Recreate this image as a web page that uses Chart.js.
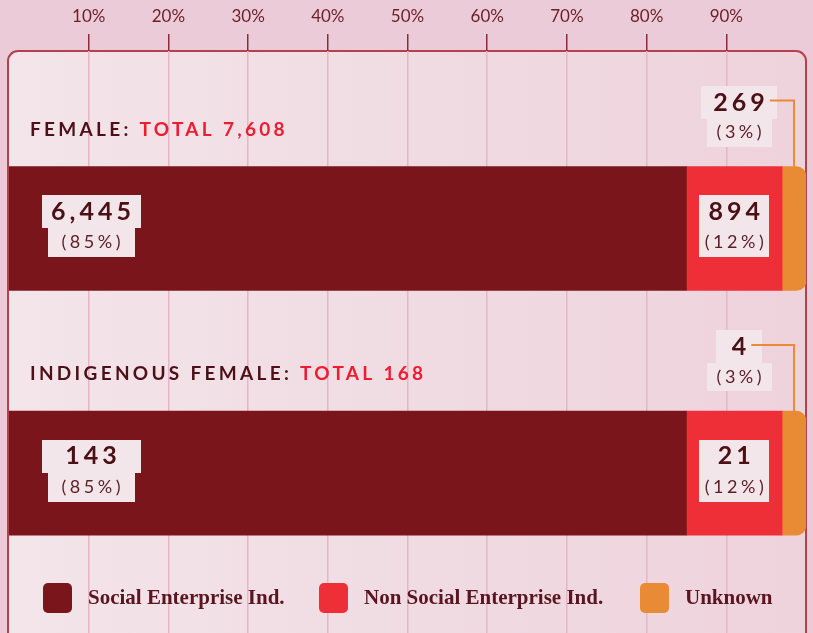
<!DOCTYPE html>
<html>
<head>
<meta charset="utf-8">
<script src="https://cdn.jsdelivr.net/npm/chart.js@4.4.1/dist/chart.umd.min.js"></script>
<style>
  html, body { margin: 0; padding: 0; background: #eccbd8; }
  #wrap { width: 813px; height: 633px; }
</style>
</head>
<body>
<div id="wrap"><canvas id="chartPerempuan"></canvas></div>
<script>
// Data per kelompok
const kelompok = ["FEMALE", "INDIGENOUS FEMALE"];
const totalKelompok = ["7,608", "168"];
const namaSeri = ["Social Enterprise Ind.", "Non Social Enterprise Ind.", "Unknown"];
const jumlahSocial = [6445, 143];
const jumlahNonSocial = [894, 21];
const jumlahUnknown = [269, 4];
const persenSocial = [85, 85];
const persenNonSocial = [12, 12];
const persenUnknown = [3, 3];
const tickPersen = [10, 20, 30, 40, 50, 60, 70, 80, 90];
const warnaSeri = ["#7a161b", "#ee2f38", "#e98a35"];

const jumlahSemua = [jumlahSocial, jumlahNonSocial, jumlahUnknown];
const persenSemua = [persenSocial, persenNonSocial, persenUnknown];

function formatAngka(n) {
    return new Intl.NumberFormat("en-US").format(n);
}

// Tulis teks dengan letter spacing, posisi di tengah
function tulisTengah(ctx, str, cx, cy, font, spasi, warna) {
    ctx.font = font;
    ctx.letterSpacing = spasi + "px";
    const w = ctx.measureText(str).width - spasi;
    ctx.fillStyle = warna;
    ctx.textAlign = "left";
    ctx.textBaseline = "middle";
    ctx.fillText(str, cx - w / 2, cy);
    return w;
}

function kotak(ctx, cx, top, w, h) {
    ctx.fillStyle = "#f3e6ea";
    ctx.fillRect(Math.round(cx - w / 2), top, Math.round(w), h);
}

// Panel latar dengan border merah
const panelPlugin = {
    id: "panel",
    beforeDraw(chart) {
        const { ctx, chartArea } = chart;
        const x0 = chartArea.left - 1, x1 = chartArea.right, y0 = chartArea.top;
        ctx.save();
        const grad = ctx.createLinearGradient(x0, 0, x1, 0);
        grad.addColorStop(0, "#f3e5ea");
        grad.addColorStop(1, "#eed2dc");
        ctx.fillStyle = grad;
        ctx.strokeStyle = "#b5404e";
        ctx.lineWidth = 2;
        ctx.beginPath();
        ctx.roundRect(x0, y0, x1 - x0, chart.height - y0 + 30, 10);
        ctx.fill();
        ctx.stroke();
        ctx.restore();
    }
};

// Label angka, judul kelompok dan legend
const labelPlugin = {
    id: "labelBar",
    afterDatasetsDraw(chart) {
        const { ctx, chartArea } = chart;
        const metaSocial = chart.getDatasetMeta(0);
        const metaNon = chart.getDatasetMeta(1);
        const metaUnk = chart.getDatasetMeta(2);
        const fontAngka = "bold 25px Lato";
        const fontPersen = "18px Lato";
        const warnaAngka = "#4a1015";
        const warnaPersen = "#5a1d25";
        ctx.save();

        kelompok.forEach((nama, i) => {
            const bs = metaSocial.data[i];
            const bn = metaNon.data[i];
            const bu = metaUnk.data[i];
            const atas = bs.y - bs.height / 2;

            // Judul kelompok
            ctx.font = "bold 19px Lato";
            ctx.letterSpacing = "3.3px";
            ctx.textAlign = "left";
            ctx.textBaseline = "middle";
            ctx.fillStyle = "#4d1018";
            const judul = nama + ": ";
            ctx.fillText(judul, chartArea.left + 21, atas - 37);
            const wJudul = ctx.measureText(judul).width;
            ctx.fillStyle = "#ee1c2e";
            ctx.fillText("TOTAL " + totalKelompok[i], chartArea.left + 21 + wJudul, atas - 37);

            // Social Enterprise
            const cxS = bs.base + 82;
            kotak(ctx, cxS, Math.round(bs.y - 33.5), 99, 33);
            kotak(ctx, cxS, Math.round(bs.y - 0.5), 87, 29);
            tulisTengah(ctx, formatAngka(jumlahSocial[i]), cxS, bs.y - 17, fontAngka, 4, warnaAngka);
            tulisTengah(ctx, "(" + persenSocial[i] + "%)", cxS, bs.y + 14, fontPersen, 3.5, warnaPersen);

            // Non Social Enterprise
            const cxN = (bn.base + bn.x) / 2;
            kotak(ctx, cxN, Math.round(bn.y - 33.5), 70, 62);
            tulisTengah(ctx, formatAngka(jumlahNonSocial[i]), cxN, bn.y - 17, fontAngka, 4, warnaAngka);
            tulisTengah(ctx, "(" + persenNonSocial[i] + "%)", cxN, bn.y + 14, fontPersen, 3.5, warnaPersen);

            // Unknown, label di atas bar dengan garis penunjuk
            const topU = bu.y - bu.height / 2;
            const cxU = bu.base - 43;
            const cxLine = (bu.base + bu.x) / 2;
            ctx.font = fontAngka;
            ctx.letterSpacing = "4px";
            const teksU = formatAngka(jumlahUnknown[i]);
            const wU = ctx.measureText(teksU).width - 4;
            kotak(ctx, cxU, Math.round(topU - 81), Math.max(wU + 24, 46), 33);
            kotak(ctx, cxU, Math.round(topU - 48), 65, 28);
            tulisTengah(ctx, teksU, cxU, topU - 64, fontAngka, 4, warnaAngka);
            tulisTengah(ctx, "(" + persenUnknown[i] + "%)", cxU, topU - 34, fontPersen, 3.5, warnaPersen);

            ctx.strokeStyle = warnaSeri[2];
            ctx.lineWidth = 2;
            ctx.beginPath();
            ctx.moveTo(cxU + wU / 2 + 5, topU - 66);
            ctx.lineTo(cxLine, topU - 66);
            ctx.lineTo(cxLine, topU);
            ctx.stroke();
        });

        // Legend manual di bagian bawah panel
        const posLegend = [43, 319, 640];
        ctx.letterSpacing = "0px";
        ctx.font = "bold 21px 'Liberation Serif'";
        ctx.textAlign = "left";
        ctx.textBaseline = "middle";
        chart.data.datasets.forEach((ds, k) => {
            ctx.fillStyle = ds.backgroundColor;
            ctx.beginPath();
            ctx.roundRect(posLegend[k], 583, 29, 30, 5);
            ctx.fill();
            ctx.fillStyle = "#5a1620";
            ctx.fillText(ds.label, posLegend[k] + 45, 599);
        });
        ctx.restore();
    }
};

// Dataset untuk bar bertumpuk
const datasets = namaSeri.map((nama, k) => ({
    label: nama,
    data: persenSemua[k].map((v, i) => ({ x: v, y: i })),
    backgroundColor: warnaSeri[k],
    borderWidth: 0,
    borderSkipped: false,
    borderRadius: k === 2 ? { topLeft: 0, bottomLeft: 0, topRight: 10, bottomRight: 10 } : 0,
    barThickness: 124
}));

const chartPerempuan = new Chart(document.getElementById("chartPerempuan"), {
    type: "bar",
    data: { datasets: datasets },
    options: {
        indexAxis: "y",
        responsive: true,
        maintainAspectRatio: false,
        animation: false,
        layout: { padding: { left: 9, right: 7, top: 0, bottom: 0 } },
        scales: {
            x: {
                position: "top",
                stacked: true,
                min: 0,
                max: 100,
                afterBuildTicks(scale) {
                    scale.ticks = tickPersen.map(v => ({ value: v }));
                },
                afterFit(scale) { scale.height = 51; },
                border: { display: false },
                grid: {
                    color: "#e4b6c6",
                    lineWidth: 1.5,
                    tickColor: "#8c2c3a",
                    tickLength: 17
                },
                ticks: {
                    padding: 7,
                    color: "#6a1e28",
                    font: { family: "Lato", size: 17 },
                    callback: v => v + "%"
                }
            },
            y: {
                type: "linear",
                display: false,
                stacked: true,
                reverse: true,
                offset: false,
                bounds: "data",
                grace: 0,
                min: -0.726,
                max: 1.654
            }
        },
        plugins: {
            legend: { display: false },
            tooltip: { enabled: false }
        }
    },
    plugins: [panelPlugin, labelPlugin]
});
</script>
</body>
</html>
